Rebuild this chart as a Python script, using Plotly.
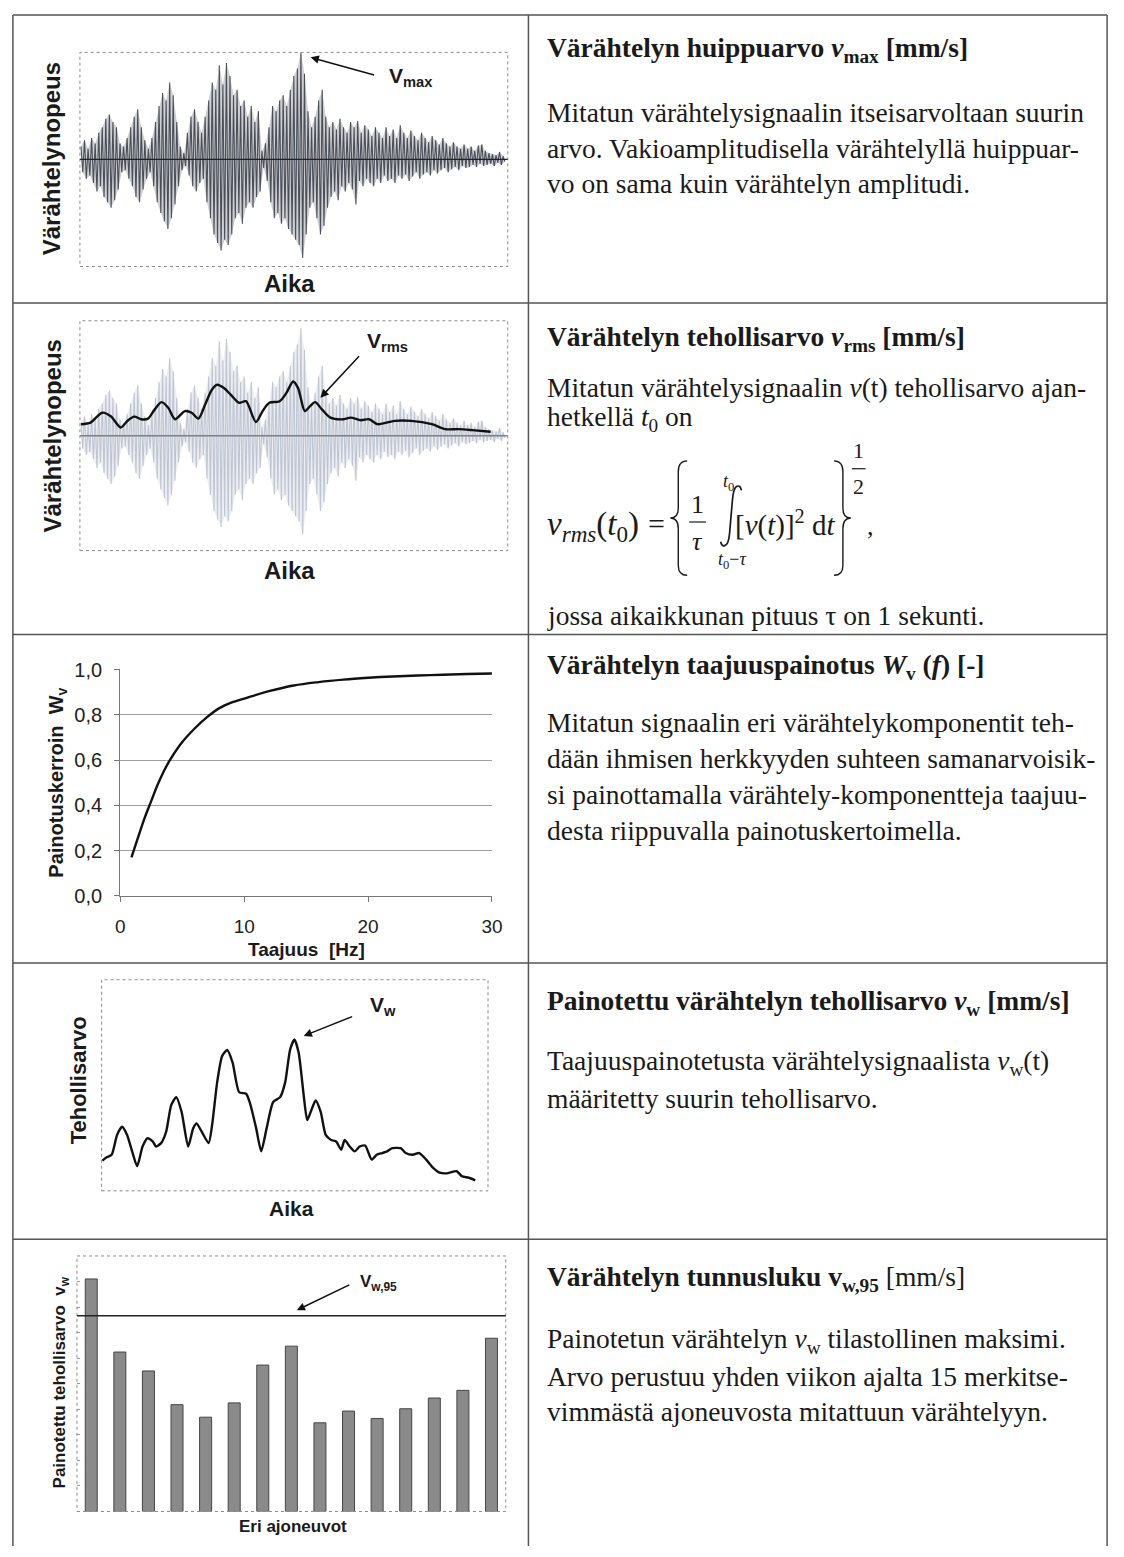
import plotly.graph_objects as go

W, H = 1124, 1557
SANS = "Liberation Sans, Arial, sans-serif"
SERIF = "Liberation Serif, Times New Roman, serif"
INK = "#1a1a1a"
NB = "\u00a0"
FS = 27.5   # body text size of the right column

# ------------------------------------------------------------------ data
# Row 1/2: vibration velocity signal, positive and negative peaks per sample
sig_pos = [0.12, 0.18, 0.10, 0.20, 0.15, 0.25, 0.30, 0.38, 0.42, 0.35,
           0.30, 0.15, 0.12, 0.20, 0.30, 0.40, 0.47, 0.30, 0.18, 0.10,
           0.20, 0.35, 0.50, 0.62, 0.55, 0.72, 0.60, 0.35, 0.12, 0.06,
           0.25, 0.40, 0.47, 0.35, 0.25, 0.40, 0.55, 0.72, 0.65, 0.88,
           0.70, 0.90, 0.78, 0.60, 0.65, 0.50, 0.55, 0.40, 0.50, 0.35,
           0.45, 0.08, 0.15, 0.30, 0.50, 0.45, 0.55, 0.60, 0.50, 0.65,
           0.78, 0.85, 1.00, 0.80, 0.45, 0.30, 0.40, 0.55, 0.65, 0.40,
           0.30, 0.35, 0.28, 0.38, 0.30, 0.25, 0.35, 0.30, 0.36, 0.25,
           0.32, 0.28, 0.22, 0.30, 0.25, 0.20, 0.30, 0.22, 0.28, 0.20,
           0.32, 0.25, 0.20, 0.27, 0.22, 0.18, 0.25, 0.20, 0.16, 0.22,
           0.18, 0.14, 0.20, 0.15, 0.12, 0.16, 0.12, 0.10, 0.14, 0.10,
           0.12, 0.08, 0.13, 0.14, 0.08, 0.06, 0.05, 0.04, 0.07, 0.03]
sig_neg = [-0.12, -0.18, -0.15, -0.22, -0.30, -0.25, -0.35, -0.40, -0.45, -0.38,
           -0.28, -0.12, -0.10, -0.18, -0.25, -0.35, -0.40, -0.28, -0.18, -0.12,
           -0.25, -0.40, -0.50, -0.58, -0.65, -0.55, -0.42, -0.25, -0.10, -0.06,
           -0.15, -0.25, -0.30, -0.22, -0.18, -0.40, -0.55, -0.70, -0.78, -0.85,
           -0.75, -0.80, -0.70, -0.55, -0.50, -0.60, -0.45, -0.40, -0.45, -0.35,
           -0.30, -0.08, -0.20, -0.40, -0.55, -0.50, -0.60, -0.55, -0.65, -0.70,
           -0.75, -0.80, -0.92, -0.70, -0.45, -0.40, -0.55, -0.70, -0.62, -0.45,
           -0.35, -0.30, -0.38, -0.25, -0.30, -0.22, -0.28, -0.42, -0.20, -0.25,
           -0.18, -0.22, -0.25, -0.18, -0.22, -0.15, -0.20, -0.18, -0.22, -0.15,
           -0.18, -0.14, -0.20, -0.16, -0.12, -0.18, -0.14, -0.12, -0.15, -0.10,
           -0.13, -0.10, -0.08, -0.12, -0.09, -0.07, -0.10, -0.06, -0.08, -0.07,
           -0.05, -0.07, -0.04, -0.06, -0.05, -0.04, -0.06, -0.03, -0.05, -0.02]

# Row 2: running rms curve (time in sample units)
rms_t = [0, 2.7, 4.6, 6.0, 8.4, 11.2, 13.1, 15.0, 17.0, 18.9, 20.8, 22.7, 24.6,
         26.5, 29.3, 31.2, 33.1, 35.0, 36.9, 38.4, 40.3, 42.2, 44.6, 46.5, 49.3,
         51.2, 53.1, 56.0, 57.9, 59.8, 61.2, 63.1, 64.6, 66.0, 67.9, 70.3, 74.1,
         76.0, 78.9, 81.2, 83.6, 88.4, 93.1, 98.9, 102.7, 106.5, 110.3, 115.5]
rms_v = [0.107, 0.122, 0.180, 0.214, 0.180, 0.076, 0.138, 0.177, 0.153, 0.159,
         0.245, 0.312, 0.260, 0.153, 0.229, 0.214, 0.159, 0.290, 0.428, 0.474,
         0.443, 0.382, 0.306, 0.321, 0.128, 0.229, 0.306, 0.321, 0.398, 0.505,
         0.443, 0.229, 0.275, 0.312, 0.245, 0.168, 0.153, 0.168, 0.144, 0.153,
         0.107, 0.138, 0.138, 0.107, 0.061, 0.061, 0.052, 0.037]

# Row 3: frequency weighting
freq_hz = [0.9, 1.5, 2, 2.5, 3, 3.5, 4, 5, 6, 7, 8, 9, 10, 12, 14, 16, 18, 20, 22, 25, 28, 30]
weight_wv = [0.17, 0.27, 0.35, 0.42, 0.49, 0.55, 0.60, 0.68, 0.74, 0.79, 0.83, 0.855,
             0.872, 0.905, 0.93, 0.945, 0.956, 0.964, 0.970, 0.976, 0.981, 0.983]
wv_tickvals = [0.0, 0.2, 0.4, 0.6, 0.8, 1.0]
wv_ticktext = ["0,0", "0,2", "0,4", "0,6", "0,8", "1,0"]
freq_tickvals = [0, 10, 20, 30]
freq_ticktext = ["0", "10", "20", "30"]

# Row 4: weighted rms curve
vw_t = [0.2, 1.3, 2.6, 4.0, 5.3, 6.6, 7.9, 9.2, 10.6, 11.9, 13.2, 14.1, 15.4, 16.7,
        18.0, 19.3, 20.7, 22.4, 23.7, 24.6, 25.9, 27.7, 28.6, 29.9, 31.2, 32.5,
        33.9, 35.6, 37.4, 38.3, 40.0, 41.3, 42.7, 44.4, 46.2, 47.5, 48.8, 49.9,
        51.0, 52.3, 53.2, 54.1, 55.4, 56.7, 58.0, 59.4, 60.7, 62.0, 62.9, 64.2,
        65.5, 66.8, 68.2, 69.9, 71.2, 72.6, 73.9, 75.2, 77.4, 78.7, 80.5, 82.2,
        84.0, 85.8, 87.5, 89.3, 91.9, 93.2, 95.0, 96.7]
vw_v = [14.3, 15.9, 17.1, 26.5, 30.4, 26.5, 18.7, 11.7, 21.0, 24.9, 23.4, 21.0, 22.6, 28.0,
        40.5, 44.4, 37.4, 21.0, 29.6, 31.9, 28.0, 22.6, 31.2, 51.4, 63.9, 66.7,
        60.7, 46.7, 46.0, 42.1, 29.6, 18.7, 29.6, 42.1, 44.4, 51.4, 67.0, 71.7,
        65.4, 45.2, 33.5, 37.4, 42.8, 37.4, 26.5, 24.1, 23.4, 19.5, 24.1, 21.0,
        18.7, 21.0, 21.5, 14.8, 17.1, 17.9, 18.7, 20.2, 20.2, 17.9, 17.1, 17.9,
        14.8, 10.9, 8.6, 8.3, 9.3, 7.0, 6.2, 5.0]

# Row 5: weighted rms per vehicle and the statistical maximum
vehicles = list(range(1, 16))
vehicle_vw = [91.0, 62.4, 55.0, 41.8, 36.9, 42.5, 57.3, 64.7, 34.7, 39.3, 36.4, 40.2, 44.4, 47.4, 67.8]
vw95_level = 76.6


# ------------------------------------------------------------------ helpers (page pixels -> paper)
def px(x):
    return x / W


def py(y):
    return 1 - y / H


def dx(a, b):
    return [px(a), px(b)]


def dy(top, bottom):
    return [py(bottom), py(top)]


def path(cmds):
    out = []
    for c in cmds:
        nums = c[1:]
        pts = [f"{px(nums[k]):.5f},{py(nums[k + 1]):.5f}" for k in range(0, len(nums), 2)]
        out.append(c[0] + " " + " ".join(pts))
    return " ".join(out)


n_s = len(sig_pos)
sig_t, sig_y = [], []
for i, (p, n) in enumerate(zip(sig_pos, sig_neg)):
    sig_t += [i, i + 0.5]
    sig_y += [p, n]
env_t = list(range(n_s)) + [i + 0.5 for i in reversed(range(n_s))]
env_y = list(sig_pos) + list(reversed(sig_neg))

fig = go.Figure()

# chart 1 signal
fig.add_trace(go.Scatter(x=env_t, y=env_y, mode="lines", fill="toself", fillcolor="rgba(95,100,112,0.30)",
                         line=dict(width=0), xaxis="x", yaxis="y", hoverinfo="skip"))
fig.add_trace(go.Scatter(x=sig_t, y=sig_y, mode="lines", line=dict(color="#4a4f58", width=1.1),
                         xaxis="x", yaxis="y", hoverinfo="skip"))
# chart 2 signal + rms
fig.add_trace(go.Scatter(x=env_t, y=env_y, mode="lines", fill="toself", fillcolor="rgba(200,205,218,0.35)",
                         line=dict(width=0), xaxis="x2", yaxis="y2", hoverinfo="skip"))
fig.add_trace(go.Scatter(x=sig_t, y=sig_y, mode="lines", line=dict(color="#bfc5d2", width=1.1),
                         xaxis="x2", yaxis="y2", hoverinfo="skip"))
fig.add_trace(go.Scatter(x=rms_t, y=rms_v, mode="lines", line=dict(color="#111", width=2.4, shape="spline", smoothing=0.8),
                         xaxis="x2", yaxis="y2", hoverinfo="skip"))
# chart 3 weighting
fig.add_trace(go.Scatter(x=freq_hz, y=weight_wv, mode="lines", line=dict(color="#111", width=2.4, shape="spline"),
                         xaxis="x3", yaxis="y3", hoverinfo="skip"))
# chart 4 weighted rms
fig.add_trace(go.Scatter(x=vw_t, y=vw_v, mode="lines", line=dict(color="#111", width=2.4, shape="spline", smoothing=0.6),
                         xaxis="x4", yaxis="y4", hoverinfo="skip"))
# chart 5 bars
fig.add_trace(go.Bar(x=vehicles, y=vehicle_vw, width=0.42, marker=dict(color="#8a8a8a", line=dict(color="#454545", width=1)),
                     xaxis="x5", yaxis="y5", hoverinfo="skip"))

hidden = dict(visible=False, fixedrange=True)
lay = dict(
    width=W, height=H, margin=dict(l=0, r=0, t=0, b=0),
    paper_bgcolor="white", plot_bgcolor="rgba(0,0,0,0)", showlegend=False,
    font=dict(family=SANS, size=14, color=INK),
    xaxis=dict(hidden, domain=dx(76, 510), range=[-0.3, 120.3], anchor="y"),
    yaxis=dict(hidden, domain=dy(43, 260), range=[-1.0, 1.0], anchor="x"),
    xaxis2=dict(hidden, domain=dx(76, 510), range=[-0.3, 120.3], anchor="y2"),
    yaxis2=dict(hidden, domain=dy(315, 548), range=[-1.07, 1.07], anchor="x2"),
    xaxis3=dict(domain=dx(117, 494), range=[0, 30], anchor="y3", tickvals=freq_tickvals, ticktext=freq_ticktext,
                showline=True, linecolor="#777", linewidth=1.2, ticks="outside", ticklen=5, tickcolor="#777",
                showgrid=False, zeroline=False, tickfont=dict(family=SANS, size=19, color="#222"),
                ticklabelstandoff=8, fixedrange=True),
    yaxis3=dict(domain=dy(668, 898), range=[0, 1.003], anchor="x3", tickvals=wv_tickvals, ticktext=wv_ticktext,
                showline=True, linecolor="#777", linewidth=1.2, ticks="outside", ticklen=5, tickcolor="#777",
                showgrid=True, gridcolor="#a0a0a0", gridwidth=1, zeroline=False,
                tickfont=dict(family=SANS, size=20, color="#222"), ticklabelstandoff=8, fixedrange=True),
    xaxis4=dict(hidden, domain=dx(98, 490), range=[0, 100], anchor="y4"),
    yaxis4=dict(hidden, domain=dy(983, 1197), range=[0, 100], anchor="x4"),
    xaxis5=dict(hidden, domain=dx(73, 508), range=[0.5, 15.5], anchor="y5"),
    yaxis5=dict(domain=dy(1263, 1522), range=[0, 100], anchor="x5", showticklabels=False, ticks="inside", ticklen=3,
                tickcolor="#999", dtick=10, showgrid=False, zeroline=False, showline=False, fixedrange=True),
)
fig.update_layout(**lay)

shapes = []
LINE = dict(color="#555", width=1.5)
# table grid
for yy in [5, 297, 633, 966, 1246]:
    shapes.append(dict(type="line", xref="paper", yref="paper", x0=px(8), x1=px(1118), y0=py(yy), y1=py(yy), line=LINE))
for xx in [8, 531, 1118]:
    shapes.append(dict(type="line", xref="paper", yref="paper", x0=px(xx), x1=px(xx), y0=py(5), y1=0, line=LINE))
# dotted plot-area frames
for ax in ["x", "x2", "x4", "x5"]:
    ya = ax.replace("x", "y")
    shapes.append(dict(type="rect", xref=f"{ax} domain", yref=f"{ya} domain", x0=0, x1=1, y0=0, y1=1,
                       line=dict(color="#8a8a8a", width=1, dash="dot")))
# zero lines of signals
shapes.append(dict(type="line", xref="x domain", yref="y", x0=0, x1=1, y0=0, y1=0, layer="above",
                   line=dict(color="#222", width=1.2)))
shapes.append(dict(type="line", xref="x2 domain", yref="y2", x0=0, x1=1, y0=0, y1=0, layer="above",
                   line=dict(color="#808080", width=1.5)))
# v_w,95 level
shapes.append(dict(type="line", xref="x5 domain", yref="y5", x0=0, x1=1, y0=vw95_level, y1=vw95_level,
                   layer="above", line=dict(color="#222", width=1.6)))

# formula decorations
FL = dict(color=INK, width=1.4)
shapes.append(dict(type="path", xref="paper", yref="paper", line=FL,
                   path=path([("M", 692, 457), ("Q", 683, 457, 683, 468), ("L", 683, 505),
                              ("Q", 683, 515, 675, 515), ("Q", 683, 515, 683, 526), ("L", 683, 563),
                              ("Q", 683, 573, 692, 573)])))
shapes.append(dict(type="path", xref="paper", yref="paper", line=FL,
                   path=path([("M", 841, 457), ("Q", 850, 457, 850, 468), ("L", 850, 505),
                              ("Q", 850, 515, 858, 515), ("Q", 850, 515, 850, 526), ("L", 850, 563),
                              ("Q", 850, 573, 841, 573)])))
shapes.append(dict(type="path", xref="paper", yref="paper", line=dict(color=INK, width=1.7),
                   path=path([("M", 747, 487), ("Q", 746, 481, 742, 483), ("Q", 739, 485, 738, 496),
                              ("L", 735, 531), ("Q", 734, 542, 730, 543), ("Q", 727, 544, 726, 539)])))
shapes.append(dict(type="line", xref="paper", yref="paper", x0=px(694), x1=px(711), y0=py(519), y1=py(519),
                   line=dict(color=INK, width=1.2)))
shapes.append(dict(type="line", xref="paper", yref="paper", x0=px(859), x1=px(873), y0=py(465), y1=py(465),
                   line=dict(color=INK, width=1.2)))
fig.update_layout(shapes=shapes)

ann = []


def txt(x, y, s, size=FS, family=SERIF, xanchor="left", angle=0, color=INK):
    ann.append(dict(x=px(x), y=py(y), xref="paper", yref="paper", text=s, showarrow=False,
                    xanchor=xanchor, yanchor="middle", textangle=angle,
                    font=dict(family=family, size=size, color=color)))


def arrow(tip, tail):
    ann.append(dict(x=px(tip[0]), y=py(tip[1]), ax=tail[0] - tip[0], ay=tail[1] - tip[1],
                    xref="paper", yref="paper", axref="pixel", ayref="pixel", text="", showarrow=True,
                    arrowhead=2, arrowsize=1.1, arrowwidth=1.5, arrowcolor="#111", standoff=0,
                    font=dict(size=12)))


# chart labels
txt(48, 151, "<b>Värähtelynopeus</b>", 24, SANS, "center", -90)
txt(289, 277, "<b>Aika</b>", 24, SANS, "center")
txt(412, 68, "<b>V<sub>max</sub></b>", 21, SANS, "center")
arrow((310, 48), (375, 66))

txt(48, 432, "<b>Värähtelynopeus</b>", 24, SANS, "center", -90)
txt(289, 568, "<b>Aika</b>", 24, SANS, "center")
txt(388, 337, "<b>V<sub>rms</sub></b>", 21, SANS, "center")
arrow((320, 393), (360, 350))

txt(53, 783, f"<b>Painotuskerroin{NB}{NB}W<sub>v</sub></b>", 20, SANS, "center", -90)
txt(306, 952, f"<b>Taajuus{NB}{NB}[Hz]</b>", 19, SANS, "center")

txt(74, 1085, "<b>Tehollisarvo</b>", 22, SANS, "center", -90)
txt(291, 1215, "<b>Aika</b>", 21, SANS, "center")
txt(383, 1010, "<b>V<sub>w</sub></b>", 21, SANS, "center")
arrow((303, 1040), (353, 1020))

txt(57, 1391, f"<b>Painotettu tehollisarvo{NB}{NB}v<sub>w</sub></b>", 17, SANS, "center", -90)
txt(292, 1537, "<b>Eri ajoneuvot</b>", 17, SANS, "center")
txt(379, 1290, "<b>V<sub>w,95</sub></b>", 17, SANS, "center")
arrow((296, 1318), (350, 1292))

# right column text
X0 = 548
txt(X0, 40, "<b>Värähtelyn huippuarvo <i>v</i><sub>max</sub> [mm/s]</b>")
txt(X0, 104, "Mitatun värähtelysignaalin itseisarvoltaan suurin")
txt(X0, 140, "arvo. Vakioamplitudisella värähtelyllä huippuar-")
txt(X0, 176, "vo on sama kuin värähtelyn amplitudi.")

txt(X0, 333, "<b>Värähtelyn tehollisarvo <i>v</i><sub>rms</sub> [mm/s]</b>")
txt(X0, 383, "Mitatun värähtelysignaalin <i>v</i>(t) tehollisarvo ajan-")
txt(X0, 414, "hetkellä <i>t</i><sub>0</sub> on")
txt(548, 524, "<i>v<sub>rms</sub></i>(<i>t</i><sub>0</sub>)", 33)
txt(661, 521, "=", 30, SERIF, "center")
txt(702, 501, "1", 26, SERIF, "center")
txt(702, 539, "<i>τ</i>", 26, SERIF, "center")
txt(734, 479, "<i>t</i><sub>0</sub>", 18, SERIF, "center")
txt(737, 558, "<i>t</i><sub>0</sub>−<i>τ</i>", 18, SERIF, "center")
txt(739, 521, "[<i>v</i>(<i>t</i>)]<sup>2</sup> d<i>t</i>", 29)
txt(866, 447, "1", 22, SERIF, "center")
txt(866, 483, "2", 22, SERIF, "center")
txt(878, 524, ",", 26, SERIF, "center")
txt(X0, 614, "jossa aikaikkunan pituus τ on 1 sekunti.")

txt(X0, 665, "<b>Värähtelyn taajuuspainotus <i>W</i><sub>v</sub> (<i>f</i>) [-]</b>")
txt(X0, 722, "Mitatun signaalin eri värähtelykomponentit teh-")
txt(X0, 759, "dään ihmisen herkkyyden suhteen samanarvoisik-")
txt(X0, 795, "si painottamalla värähtely-komponentteja taajuu-")
txt(X0, 832, "desta riippuvalla painotuskertoimella.")

txt(X0, 1006, "<b>Painotettu värähtelyn tehollisarvo <i>v</i><sub>w</sub> [mm/s]</b>")
txt(X0, 1067, "Taajuuspainotetusta värähtelysignaalista <i>v</i><sub>w</sub>(t)")
txt(X0, 1103, "määritetty suurin tehollisarvo.")

txt(X0, 1286, "<b>Värähtelyn tunnusluku v<sub>w,95</sub></b> [mm/s]")
txt(X0, 1349, "Painotetun värähtelyn <i>v</i><sub>w</sub> tilastollinen maksimi.")
txt(X0, 1385, "Arvo perustuu yhden viikon ajalta 15 merkitse-")
txt(X0, 1421, "vimmästä ajoneuvosta mitattuun värähtelyyn.")

fig.update_layout(annotations=ann)

fig.write_html("out.html", config={"displayModeBar": False, "staticPlot": True},
               post_script="document.body.style.margin='0';document.body.style.overflow='hidden';"
                           "document.documentElement.style.overflow='hidden';")
